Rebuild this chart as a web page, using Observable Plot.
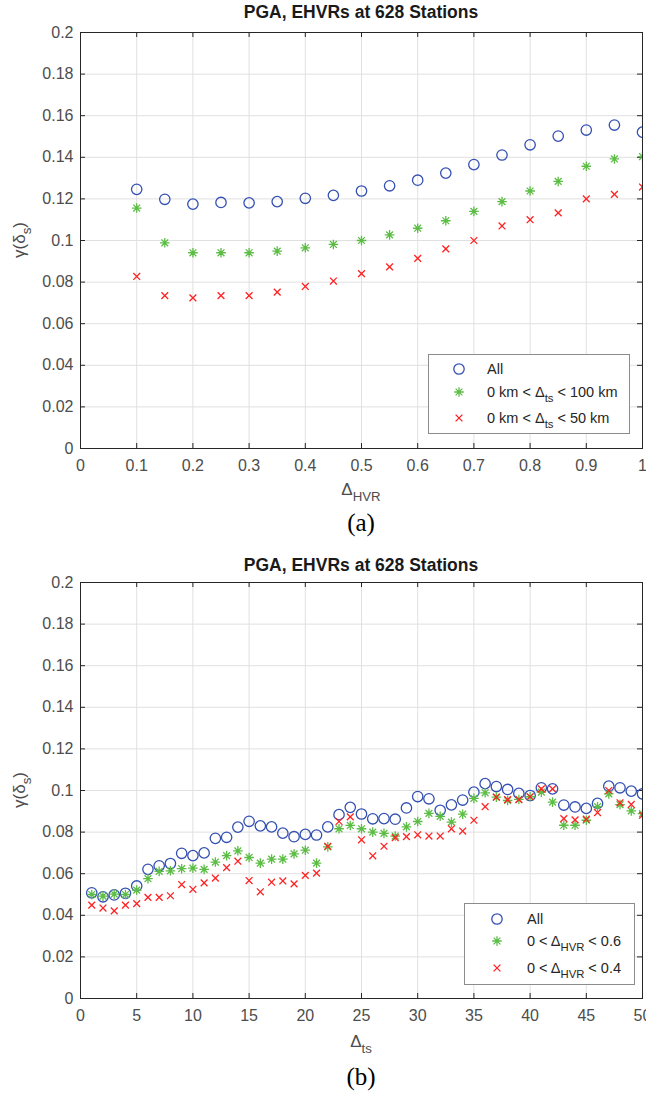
<!DOCTYPE html>
<html>
<head>
<meta charset="utf-8">
<script src="https://cdn.jsdelivr.net/npm/d3@7"></script>
<script src="https://cdn.jsdelivr.net/npm/@observablehq/plot@0.6"></script>
<style>
  body { margin: 0; background: #fff; }
  #page { position: relative; width: 646px; height: 1097px; background: #fff; font-family: "Liberation Sans", Arial, sans-serif; }
  .abs { position: absolute; white-space: nowrap; }
  .title { font-weight: bold; font-size: 17.5px; color: #1a1a1a; transform: translate(-50%, -50%); }
  .ylab { font-size: 17px; color: #4d4d4d; transform: translate(-50%, -50%) rotate(-90deg); }
  .xlab { font-size: 17px; color: #4d4d4d; transform: translate(-50%, -50%); }
  .caption { font-family: "Liberation Serif", "Times New Roman", serif; font-size: 25px; color: #000; transform: translate(-50%, -50%); }
  sub { font-size: 0.78em; vertical-align: -0.45em; line-height: 0; }
  .legend { position: absolute; background: #fff; border: 1px solid #8c8c8c; box-sizing: border-box; }
  .legend .row { position: absolute; white-space: nowrap; font-size: 14.5px; color: #262626; transform: translateY(-50%); }
  .legend svg { position: absolute; overflow: visible; }
</style>
</head>
<body>
<div id="page"></div>
<script>
// ---- Panel (a): gamma(delta_s) versus Delta_HVR ----
const hvr = [0.1, 0.15, 0.2, 0.25, 0.3, 0.35, 0.4, 0.45, 0.5, 0.55, 0.6, 0.65, 0.7, 0.75, 0.8, 0.85, 0.9, 0.95, 1.0];
const hvrAll = [0.1246, 0.1198, 0.1175, 0.1183, 0.1181, 0.1187, 0.1203, 0.1217, 0.1238, 0.1263, 0.1290, 0.1324, 0.1365, 0.1411, 0.1460, 0.1502, 0.1531, 0.1555, 0.1521];
const hvrTs100 = [0.1156, 0.0989, 0.0941, 0.0941, 0.0941, 0.0949, 0.0965, 0.0981, 0.1000, 0.1027, 0.1059, 0.1095, 0.1140, 0.1187, 0.1238, 0.1284, 0.1357, 0.1392, 0.1403];
const hvrTs50 = [0.0827, 0.0735, 0.0724, 0.0735, 0.0735, 0.0752, 0.0779, 0.0805, 0.0841, 0.0873, 0.0914, 0.0960, 0.1000, 0.1070, 0.1100, 0.1133, 0.1200, 0.1222, 0.1257];

// ---- Panel (b): gamma(delta_s) versus Delta_ts ----
const ts = d3.range(1, 51);
const tsAll = [0.0508, 0.0489, 0.0498, 0.0506, 0.0541, 0.0621, 0.0638, 0.0649, 0.0698, 0.0687,
               0.0700, 0.0770, 0.0775, 0.0824, 0.0852, 0.0830, 0.0825, 0.0795, 0.0778, 0.0789,
               0.0786, 0.0825, 0.0884, 0.0919, 0.0887, 0.0864, 0.0865, 0.0862, 0.0916, 0.0971,
               0.0960, 0.0905, 0.0931, 0.0954, 0.0992, 0.1033, 0.1019, 0.1005, 0.0986, 0.0976,
               0.1013, 0.1008, 0.0930, 0.0921, 0.0914, 0.0938, 0.1021, 0.1013, 0.0997, 0.0984];
const tsHvr06 = [0.0500, 0.0492, 0.0502, 0.0500, 0.0521, 0.0576, 0.0611, 0.0614, 0.0624, 0.0627,
                 0.0621, 0.0656, 0.0687, 0.0710, 0.0678, 0.0651, 0.0670, 0.0670, 0.0695, 0.0713,
                 0.0651, 0.0729, 0.0816, 0.0832, 0.0816, 0.0800, 0.0794, 0.0781, 0.0825, 0.0851,
                 0.0890, 0.0876, 0.0848, 0.0886, 0.0962, 0.0989, 0.0968, 0.0952, 0.0957, 0.0970,
                 0.0992, 0.0944, 0.0833, 0.0833, 0.0857, 0.0922, 0.0984, 0.0932, 0.0902, 0.0889];
const tsHvr04 = [0.0449, 0.0435, 0.0421, 0.0449, 0.0456, 0.0486, 0.0486, 0.0494, 0.0548, 0.0525,
                 0.0556, 0.0579, 0.0629, 0.0660, 0.0567, 0.0513, 0.0559, 0.0565, 0.0551, 0.0592,
                 0.0603, 0.0732, 0.0851, 0.0873, 0.0763, 0.0686, 0.0732, 0.0773, 0.0778, 0.0787,
                 0.0781, 0.0781, 0.0816, 0.0805, 0.0857, 0.0922, 0.0968, 0.0956, 0.0956, 0.0970,
                 0.1008, 0.1008, 0.0865, 0.0859, 0.0862, 0.0894, 0.1000, 0.0941, 0.0933, 0.0881];

// Tick positions
const yTicks = [0, 0.02, 0.04, 0.06, 0.08, 0.1, 0.12, 0.14, 0.16, 0.18, 0.2];
const xTicksA = [0, 0.1, 0.2, 0.3, 0.4, 0.5, 0.6, 0.7, 0.8, 0.9, 1];
const xTicksB = [0, 5, 10, 15, 20, 25, 30, 35, 40, 45, 50];

const title = "PGA, EHVRs at 628 Stations";
const seriesA = ["All", "0 km < Δ<sub>ts</sub> < 100 km", "0 km < Δ<sub>ts</sub> < 50 km"];
const seriesB = ["All", "0 < Δ<sub>HVR</sub> < 0.6", "0 < Δ<sub>HVR</sub> < 0.4"];

// Colours and styling
const blue = "#3450b2", green = "#5cbd45", red = "#ff2222";
const axisColor = "#262626", gridColor = "#e0e0e0", tickText = "#4d4d4d";

// Custom marker shapes: eight-armed asterisk and diagonal cross
const asterisk = {
  draw(ctx, size) {
    const r = Math.sqrt(size / Math.PI);
    for (let k = 0; k < 4; ++k) {
      const a = k * Math.PI / 4, c = Math.cos(a) * r, s = Math.sin(a) * r;
      ctx.moveTo(-c, -s); ctx.lineTo(c, s);
    }
  }
};
const cross = {
  draw(ctx, size) {
    const r = Math.sqrt(size / Math.PI);
    ctx.moveTo(-r, -r); ctx.lineTo(r, r);
    ctx.moveTo(-r, r); ctx.lineTo(r, -r);
  }
};

const W = 646, H = 478, mL = 80, mR = 4, mT = 32, mB = 30;
const frameW = W - mL - mR, frameH = H - mT - mB;
const tickPx = 5;
const fmt = d => String(+d.toFixed(2));

function panel(xs, s1, s2, s3, xDomain, xTicks) {
  const rows = xs.map((x, i) => ({x, a: s1[i], b: s2[i], c: s3[i]}));
  const yDomain = [0, 0.2];
  const tx = (xDomain[1] - xDomain[0]) * tickPx / frameW;
  const ty = (yDomain[1] - yDomain[0]) * tickPx / frameH;
  return Plot.plot({
    width: W, height: H,
    marginLeft: mL, marginRight: mR, marginTop: mT, marginBottom: mB,
    style: {fontFamily: "'Liberation Sans', Arial, sans-serif", fontSize: "16px", color: tickText, background: "#fff"},
    x: {domain: xDomain},
    y: {domain: yDomain},
    marks: [
      Plot.gridX(xTicks, {stroke: gridColor, strokeOpacity: 1}),
      Plot.gridY(yTicks, {stroke: gridColor, strokeOpacity: 1}),
      Plot.axisX(xTicks, {tickSize: 0, tickPadding: 11, tickFormat: fmt, label: null, fill: tickText}),
      Plot.axisY(yTicks, {tickSize: 0, tickPadding: 7, tickFormat: fmt, label: null, fill: tickText}),
      // inward ticks on all four sides
      Plot.ruleX(xTicks, {x: d => d, y1: () => yDomain[0], y2: () => yDomain[0] + ty, stroke: axisColor}),
      Plot.ruleX(xTicks, {x: d => d, y1: () => yDomain[1], y2: () => yDomain[1] - ty, stroke: axisColor}),
      Plot.ruleY(yTicks, {y: d => d, x1: () => xDomain[0], x2: () => xDomain[0] + tx, stroke: axisColor}),
      Plot.ruleY(yTicks, {y: d => d, x1: () => xDomain[1], x2: () => xDomain[1] - tx, stroke: axisColor}),
      Plot.frame({stroke: axisColor, strokeWidth: 1}),
      Plot.dot(rows, {x: "x", y: "a", symbol: "circle", r: 5.2, fill: "none", stroke: blue, strokeWidth: 1.3, clip: true}),
      Plot.dot(rows, {x: "x", y: "b", symbol: asterisk, r: 4.8, fill: "none", stroke: green, strokeWidth: 1.3, clip: true}),
      Plot.dot(rows, {x: "x", y: "c", symbol: cross, r: 3.4, fill: "none", stroke: red, strokeWidth: 1.3, clip: true})
    ]
  });
}

function markerSvg(kind) {
  const ns = "http://www.w3.org/2000/svg";
  const svg = document.createElementNS(ns, "svg");
  svg.setAttribute("width", 14); svg.setAttribute("height", 14);
  svg.setAttribute("viewBox", "-7 -7 14 14");
  const path = document.createElementNS(ns, "path");
  const p = d3.path();
  if (kind === 0) { p.arc(0, 0, 5.2, 0, 2 * Math.PI); }
  else if (kind === 1) { asterisk.draw(p, Math.PI * 4.8 * 4.8); }
  else { cross.draw(p, Math.PI * 3.4 * 3.4); }
  path.setAttribute("d", p.toString());
  path.setAttribute("fill", "none");
  path.setAttribute("stroke", [blue, green, red][kind]);
  path.setAttribute("stroke-width", 1.3);
  svg.appendChild(path);
  return svg;
}

function legend(parent, labels, box, markX, textX, rowY) {
  const div = document.createElement("div");
  div.className = "legend";
  Object.assign(div.style, {left: box[0] + "px", top: box[1] + "px", width: box[2] + "px", height: box[3] + "px"});
  labels.forEach((lab, i) => {
    const svg = markerSvg(i);
    svg.style.left = (markX - 7) + "px";
    svg.style.top = (rowY[i] - 7) + "px";
    div.appendChild(svg);
    const t = document.createElement("div");
    t.className = "row";
    t.style.left = textX + "px";
    t.style.top = rowY[i] + "px";
    t.innerHTML = lab;
    div.appendChild(t);
  });
  parent.appendChild(div);
}

function text(parent, cls, html, x, y) {
  const d = document.createElement("div");
  d.className = "abs " + cls;
  d.style.left = x + "px";
  d.style.top = y + "px";
  d.innerHTML = html;
  parent.appendChild(d);
}

const page = document.getElementById("page");
const cx = mL + frameW / 2;

// Panel (a)
const boxA = document.createElement("div");
boxA.className = "abs"; boxA.style.left = "0px"; boxA.style.top = "0px";
boxA.appendChild(panel(hvr, hvrAll, hvrTs100, hvrTs50, [0, 1], xTicksA));
page.appendChild(boxA);
text(page, "title", title, cx, 12);
text(page, "ylab", "γ(δ<sub>s</sub>)", 20, 240);
text(page, "xlab", "Δ<sub>HVR</sub>", cx, 490);
text(page, "caption", "(a)", cx, 523);
legend(page, seriesA, [428, 354, 202, 80], 30, 58, [14, 37, 63]);

// Panel (b)
const topB = 550;
const boxB = document.createElement("div");
boxB.className = "abs"; boxB.style.left = "0px"; boxB.style.top = topB + "px";
boxB.appendChild(panel(ts, tsAll, tsHvr06, tsHvr04, [0, 50], xTicksB));
page.appendChild(boxB);
text(page, "title", title, cx, 565);
text(page, "ylab", "γ(δ<sub>s</sub>)", 20, 790);
text(page, "xlab", "Δ<sub>ts</sub>", cx, 1042);
text(page, "caption", "(b)", cx, 1077);
legend(page, seriesB, [464, 903, 171, 82], 32, 62, [15, 37, 64]);
</script>
</body>
</html>
